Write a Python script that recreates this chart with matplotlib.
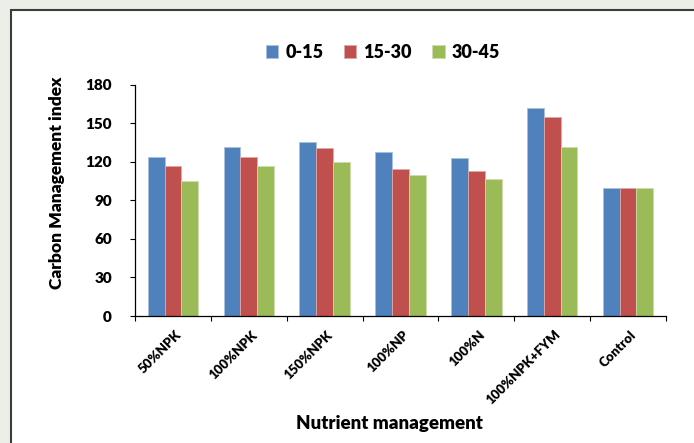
import matplotlib
matplotlib.use("Agg")
import matplotlib.pyplot as plt
import matplotlib.transforms as mtransforms
from matplotlib.patches import Rectangle
import numpy as np

# Carbon management index by nutrient management and soil depth (cm)
treatments = ["50%NPK", "100%NPK", "150%NPK", "100%NP", "100%N", "100%NPK+FYM", "Control"]
depths = ["0-15", "15-30", "30-45"]
cmi_0_15 = [123.7, 131.7, 135.6, 127.3, 122.6, 161.6, 100.0]
cmi_15_30 = [116.4, 123.4, 130.9, 114.3, 112.8, 154.6, 100.0]
cmi_30_45 = [105.0, 116.7, 119.5, 109.6, 106.5, 131.7, 100.0]
y_ticks = [0, 30, 60, 90, 120, 150, 180]

colors = ["#4F81BD", "#C0504D", "#9BBB59"]
edges = ["#A9C1DF", "#E0A9A7", "#CDDDAC"]

plt.rcParams["font.family"] = ["Lato", "DejaVu Sans"]
WEIGHT = "heavy"

W, H = 694, 443
fig = plt.figure(figsize=(W / 100, H / 100), dpi=100, facecolor="#ECEEE8")

# white chart area with a dark frame
frame = Rectangle((10.5 / W, -0.1), 1.2, (H - 10.5) / H + 0.1,
                  transform=fig.transFigure, facecolor="white",
                  edgecolor="#3C3C3C", linewidth=1.5, zorder=-10)
fig.patches.append(frame)

ax = fig.add_axes([135 / W, 1 - 316 / H, (666 - 135) / W, (316 - 84.7) / H])
ax.set_zorder(5)
ax.set_facecolor("none")

x = np.arange(len(treatments))
bw = 0.222
for i, (vals, c, e, lab) in enumerate(zip([cmi_0_15, cmi_15_30, cmi_30_45], colors, edges, depths)):
    ax.bar(x + (i - 1) * bw, vals, width=bw, color=c, edgecolor=e,
           linewidth=0.6, label=lab, zorder=2)

ax.set_xlim(-0.5, len(treatments) - 0.5)
ax.set_ylim(0, 180)
ax.set_yticks(y_ticks)
ax.set_yticklabels([str(t) for t in y_ticks], fontsize=11, fontweight=WEIGHT)
ax.tick_params(axis="y", direction="out", length=3.6, width=0.8, pad=13, color="#000000")

ax.set_xticks(x)
ax.set_xticklabels(treatments, rotation=45, ha="right", va="top",
                   rotation_mode="anchor", fontsize=9.5, fontweight=WEIGHT)
ax.set_xticks(np.arange(-0.5, len(treatments), 1.0), minor=True)
ax.tick_params(axis="x", which="major", length=0, pad=9)
ax.tick_params(axis="x", which="minor", direction="out", length=3.6, width=0.8)
shift = mtransforms.ScaledTranslation(2 / 100, 0, fig.dpi_scale_trans)
for lbl in ax.get_xticklabels():
    lbl.set_transform(lbl.get_transform() + shift)

for s in ["top", "right"]:
    ax.spines[s].set_visible(False)
for s in ["left", "bottom"]:
    ax.spines[s].set_linewidth(0.9)
    ax.spines[s].set_color("#000000")

fig.text(57 / W, 1 - 183 / H, "Carbon Management index", rotation=90,
         ha="center", va="center", fontsize=12.5, fontweight=WEIGHT)
fig.text(389 / W, 1 - 424 / H, "Nutrient management",
         ha="center", va="center", fontsize=13.5, fontweight=WEIGHT)

handles, labels = ax.get_legend_handles_labels()
fig.legend(handles, labels, loc="center", bbox_to_anchor=(383 / W, 1 - 52 / H),
           ncol=3, frameon=False, prop={"weight": WEIGHT, "size": 13},
           handlelength=0.7, handleheight=0.7, handletextpad=0.4, columnspacing=1.1)

fig.savefig("out.png", dpi=100, facecolor=fig.get_facecolor())
